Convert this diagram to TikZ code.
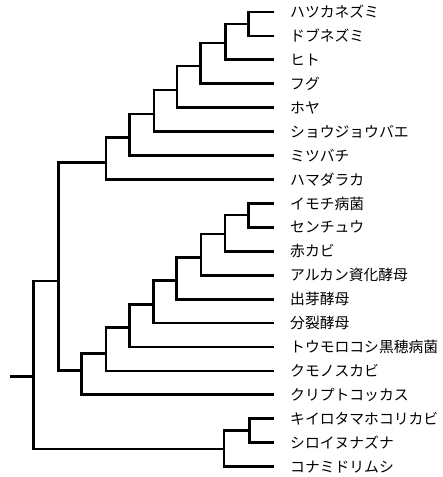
\documentclass[tikz,border=0pt]{standalone}
\usepackage{fontspec}
\newfontfamily\jpfont{Noto Sans CJK JP}
\begin{document}
\begin{tikzpicture}[x=1pt,y=-1pt,
  br/.style={line width=2.8pt,line join=miter,line cap=rect},
  lab/.style={anchor=west,inner sep=0pt,font=\jpfont\fontsize{14.8}{15}\selectfont}]
\useasboundingbox (0,0) rectangle (443,477);
% leaves
\foreach \i/\t in {1/ハツカネズミ,2/ドブネズミ,3/ヒト,4/フグ,5/ホヤ,6/ショウジョウバエ,7/ミツバチ,8/ハマダラカ,9/イモチ病菌,10/センチュウ,11/赤カビ,12/アルカン資化酵母,13/出芽酵母,14/分裂酵母,15/トウモロコシ黒穂病菌,16/クモノスカビ,17/クリプトコッカス,18/キイロタマホコリカビ,19/シロイヌナズナ,20/コナミドリムシ}{
  \pgfmathsetmacro\yy{12+23.93*(\i-1)}
  \coordinate (l\i) at (273,\yy);
  \node[lab] (t\i) at (290,\yy) {\t};
}
% internal nodes
\coordinate (a12) at (248.7,24);
\coordinate (a3) at (225.3,43);
\coordinate (a4) at (200.7,66);
\coordinate (a5) at (177,90);
\coordinate (a6) at (154,114);
\coordinate (a7) at (129.3,137.7);
\coordinate (a8) at (106,162.3);
\coordinate (f910) at (248.5,215);
\coordinate (f11) at (225,234);
\coordinate (f12) at (201,257.7);
\coordinate (f13) at (176.7,280.7);
\coordinate (f14) at (153.3,304.3);
\coordinate (f15) at (129.3,327.7);
\coordinate (f16) at (106,353.3);
\coordinate (f17) at (81.7,370.7);
\coordinate (af) at (58.3,281);
\coordinate (p12) at (249.3,430.7);
\coordinate (p) at (224,449);
\coordinate (root) at (33.3,376.7);
\coordinate (r0) at (11,376.7);
% branches
\draw[br] (a12) |- (l1); \draw[br] (a12) |- (l2);
\draw[br] (a3) |- (a12); \draw[br] (a3) |- (l3);
\draw[br] (a4) |- (a3); \draw[br] (a4) |- (l4);
\draw[br] (a5) |- (a4); \draw[br] (a5) |- (l5);
\draw[br] (a6) |- (a5); \draw[br] (a6) |- (l6);
\draw[br] (a7) |- (a6); \draw[br] (a7) |- (l7);
\draw[br] (a8) |- (a7); \draw[br] (a8) |- (l8);
\draw[br] (f910) |- (l9); \draw[br] (f910) |- (l10);
\draw[br] (f11) |- (f910); \draw[br] (f11) |- (l11);
\draw[br] (f12) |- (f11); \draw[br] (f12) |- (l12);
\draw[br] (f13) |- (f12); \draw[br] (f13) |- (l13);
\draw[br] (f14) |- (f13); \draw[br] (f14) |- (l14);
\draw[br] (f15) |- (f14); \draw[br] (f15) |- (l15);
\draw[br] (f16) |- (f15); \draw[br] (f16) |- (l16);
\draw[br] (f17) |- (f16); \draw[br] (f17) |- (l17);
\draw[br] (af) |- (a8); \draw[br] (af) |- (f17);
\draw[br] (p12) |- (l18); \draw[br] (p12) |- (l19);
\draw[br] (p) |- (p12); \draw[br] (p) |- (l20);
\draw[br] (root) |- (af); \draw[br] (root) |- (p);
\draw[br] (r0) -- (root);
\end{tikzpicture}
\end{document}
